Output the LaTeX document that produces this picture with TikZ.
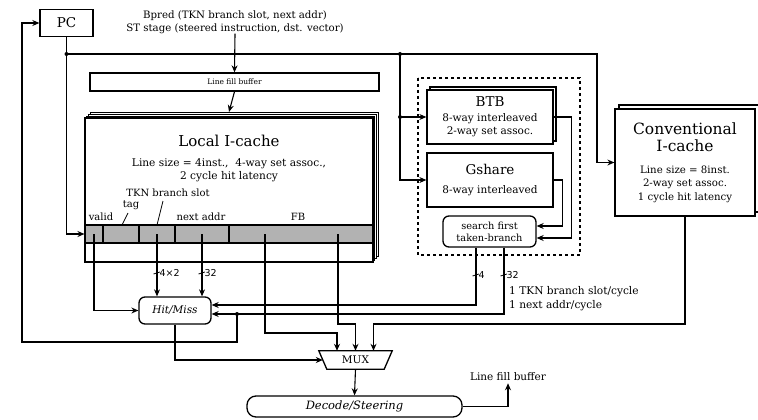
\documentclass[tikz,border=0pt]{standalone}
\usepackage{fontspec}
\setmainfont{DejaVu Serif}
\setsansfont{DejaVu Sans}
\usetikzlibrary{arrows.meta}

\tikzset{
  box/.style={draw, line width=1.3pt, fill=white, inner sep=0pt, align=center},
  cell/.style={draw, line width=1.1pt, fill=black!30, inner sep=0pt, minimum height=18pt},
  lbl/.style={inner sep=0pt, font=\fontsize{10}{12}\selectfont},
  wire/.style={line width=1.1pt},
}

% small slash across a bus wire, with its width
\newcommand{\wiretick}[4]{%
  \draw[line width=0.8pt] (#2-3.5,#3+1) -- (#2+3,#3-1);
  \node[lbl, anchor=west, font=\sffamily\fontsize{9.5}{12}\selectfont] (#1) at (#2+2.5,#3) {#4};}
\newcommand{\bigsz}{\fontsize{15.5}{17.5}\selectfont}

\begin{document}
\begin{tikzpicture}[x=1pt, y=-1pt, >={Stealth[length=7pt,width=6pt]}]
        % ==== DEFINITIONS ====
        \def\stk{1.8} % offset of the stacked copies
        \useasboundingbox (0,0) rectangle (758,420);

        % ==== PC AND INPUT TEXT ====
        \node[box, minimum width=53, minimum height=27, font=\fontsize{13.5}{16}\selectfont] (pc) at (66.5,23) {PC};
        \node[lbl, align=center, font=\fontsize{10.2}{13}\selectfont] (bpred) at (235,22)
            {Bpred (TKN branch slot, next addr)\\ST stage (steered instruction, dst. vector)};

        % ==== LINE FILL BUFFER ====
        \node[box, minimum width=289, minimum height=18, font=\fontsize{7.5}{9}\selectfont] (lfb) at (234.5,82) {Line fill buffer};

        % ==== LOCAL I-CACHE ====
        \foreach \k in {3,2,1}
            \draw[line width=1.1pt, fill=white] (85+\k*\stk,262-\k*\stk) rectangle (373+\k*\stk,118-\k*\stk);
        \node[box, minimum width=288, minimum height=144] (lic) at (229,190) {};
        \node[font=\fontsize{15}{18}\selectfont] (lictitle) at (229,141) {Local I-cache};
        \node[align=center, font=\fontsize{10.6}{13.5}\selectfont] (licinfo) at (229,170)
            {Line size = 4inst.,\ \ 4-way set assoc.,\\2 cycle hit latency};

        % ==== FIELDS OF A LINE ====
        \foreach \name/\xa/\xb in {valid/85/103, tag/103/139, tkn/139/175, naddr/175/229, fb/229/373}
            \node[cell, minimum width={\xb-\xa}] (\name) at ({(\xa+\xb)/2},234) {};
        \node[lbl] (lvalid) at (101,217) {valid};
        \node[lbl] (ltag) at (131,205) {tag};
        \node[lbl] (ltkn) at (168,193) {TKN branch slot};
        \node[lbl] (lnaddr) at (201,217) {next addr};
        \node[lbl] (lfbf) at (298,217) {FB};
        \draw[line width=0.8pt] (122,225) -- (128,213);
        \draw[line width=0.8pt] (157,225) -- (163,201);

        % ==== BRANCH PREDICTION ====
        \draw[dashed, line width=1.2pt] (418,78) rectangle (580,255);
        \draw[line width=1.1pt, fill=white] (430,141) rectangle (556,87);
        \node[box, minimum width=126, minimum height=54, font=\fontsize{10.5}{13.5}\selectfont] (btb) at (490,117)
            {\fontsize{13.5}{16}\selectfont BTB\\[1pt]8-way interleaved\\2-way set assoc.};
        \node[box, minimum width=126, minimum height=54, font=\fontsize{10.5}{13.5}\selectfont] (gsh) at (490,180)
            {\fontsize{13.5}{16}\selectfont Gshare\\[5pt]8-way interleaved};
        \node[box, rounded corners=6, minimum width=93, minimum height=31, font=\fontsize{9.8}{12}\selectfont] (srch) at (489.5,231.5)
            {search first\\taken-branch};

        % ==== CONVENTIONAL I-CACHE ====
        \draw[line width=1.1pt, fill=white] (619,212) rectangle (760,105);
        \node[box, minimum width=140, minimum height=107, font=\fontsize{10.2}{13.5}\selectfont] (cic) at (685,162.5)
            {\bigsz Conventional\\[4pt]\bigsz I-cache\\[8pt]Line size = 8inst.\\2-way set assoc.\\1 cycle hit latency};

        % ==== HIT/MISS, MUX, DECODE ====
        \node[box, rounded corners=6, minimum width=72, minimum height=27, font=\itshape\fontsize{10.5}{13}\selectfont] (hm) at (175,310.5) {Hit/Miss};
        \node[inner sep=0pt, minimum width=73, minimum height=18, font=\fontsize{10.5}{13}\selectfont] (mux) at (355.5,360) {MUX};
        \draw[line width=1.3pt] (mux.north west) -- (mux.north east) -- ([xshift=-8pt]mux.south east)
            -- ([xshift=8pt]mux.south west) -- cycle;
        \node[box, rounded corners=9, minimum width=215, minimum height=21, font=\itshape\fontsize{11.5}{14}\selectfont] (dec) at (354.5,406.5) {Decode/Steering};
        \node[lbl, font=\fontsize{10.5}{12}\selectfont] (lfbo) at (508,377) {Line fill buffer};
        \node[lbl, align=left, anchor=north west, font=\fontsize{10.6}{14}\selectfont] (rate) at (509,286)
            {1 TKN branch slot/cycle\\1 next addr/cycle};

        % ==== JUNCTIONS ====
        \coordinate (j1) at (pc.south |- 0,54);
        \coordinate (j2) at (400,54);
        \coordinate (j3) at (597,54);
        \coordinate (j4) at (237,314);
        \coordinate (lp) at (22,342);
        \coordinate (fbo1) at ([xshift=-36pt]fb.center);
        \coordinate (fbo2) at ([xshift=37pt]fb.center);
        \coordinate (mi1) at ([xshift=-18.5pt]mux.north);
        \coordinate (mi2) at (mux.north);
        \coordinate (mi3) at ([xshift=18pt]mux.north);
        \coordinate (so1) at ([xshift=-13.5pt]srch.south);
        \coordinate (so2) at ([xshift=14.5pt]srch.south);

        % ==== PC FAN-OUT ====
        \draw[wire, ->] (pc.south) |- (valid.west);
        \draw[wire, ->] (j1) -- (j3) |- (cic.west);
        \draw[wire, ->] (j2) |- (btb.west);
        \draw[wire, ->] (j2) |- (gsh.west);
        \fill (j1) circle[radius=2pt];
        \fill (j2) circle[radius=2pt];
        \fill (j2 |- btb.west) circle[radius=2pt];

        % ==== FILL PATH ====
        \draw[wire, ->] (bpred.south) -- (lfb.north);
        \draw[wire, ->] (lfb.south) -- ([yshift=3*\stk pt]lic.north);

        % ==== PREDICTOR OUTPUTS ====
        \draw[wire, ->] (btb.east) -- ++(18,0) |- ([yshift=-6.5pt]srch.east);
        \draw[wire, ->] (gsh.east) -- ++(9,0) |- ([yshift=5.5pt]srch.east);
        \draw[wire, ->] (so1) |- ([yshift=5.5pt]hm.east);
        \draw[wire, ->] (so2) |- ([yshift=-3.5pt]hm.east);
        \wiretick{w4}{476}{275}{4}
        \wiretick{w32b}{504}{275}{32}

        % ==== LOCAL I-CACHE OUTPUTS ====
        \draw[wire, ->] (valid.center) |- (hm.west);
        \draw[wire, ->] (tkn.center) -- (tkn.center |- hm.north);
        \draw[wire, ->] (naddr.center) -- (naddr.center |- hm.north);
        \wiretick{w8}{157}{273}{4×2}
        \wiretick{w32a}{202}{273}{32}

        % ==== INTO THE MUX ====
        \draw[wire, ->] (fbo1) |- (mi1 |- 0,333) -- (mi1);
        \draw[wire, ->] (fbo2) |- (mi2 |- 0,324) -- (mi2);
        \draw[wire, ->] (cic.south) |- (mi3 |- 0,324) -- (mi3);
        \draw[wire, ->] (hm.south) |- ([xshift=4pt]mux.west);
        \draw[wire, ->] (mux.south) -- (dec.north);
        \draw[wire, ->] (dec.east) -| ([yshift=-2pt]lfbo.south);

        % ==== NEXT PC LOOP ====
        \draw[wire, ->] (j4) |- (lp) |- (pc.west);
        \fill (j4) circle[radius=2pt];
    \end{tikzpicture}
\end{document}
